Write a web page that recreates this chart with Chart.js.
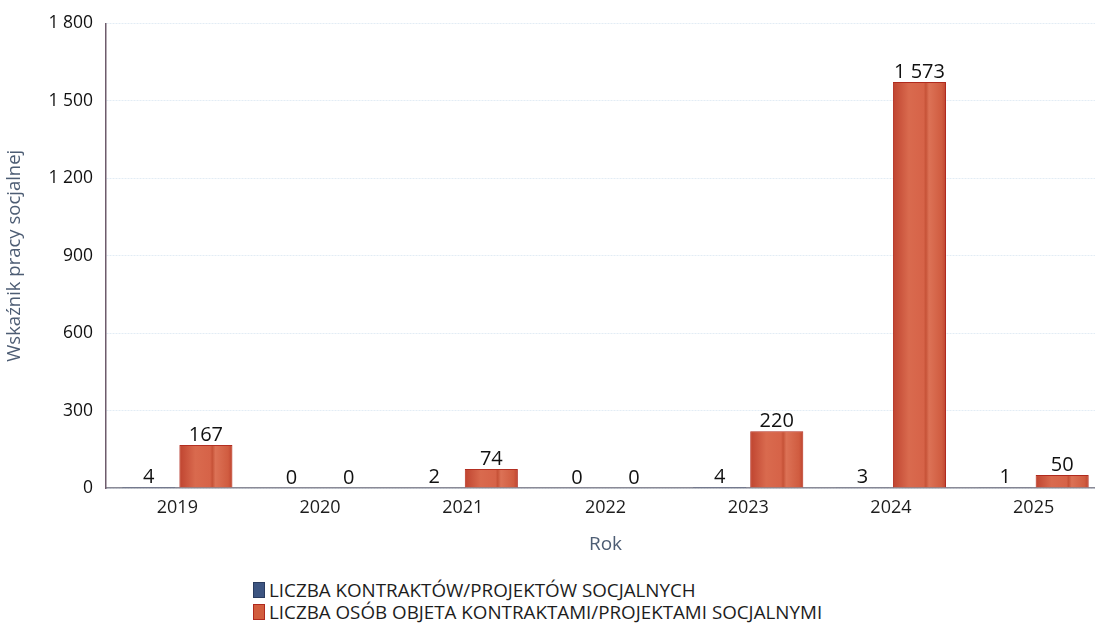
<!DOCTYPE html>
<html lang="pl">
<head>
<meta charset="utf-8">
<script src="https://cdn.jsdelivr.net/npm/chart.js@4/dist/chart.umd.min.js"></script>
<style>
    html, body { margin: 0; padding: 0; background: #fff; overflow: hidden; }
    #wrap { position: relative; width: 1105px; height: 560px; }
    #legend { position: absolute; left: 253px; top: 579px; font-family: "Open Sans", sans-serif; font-size: 18.8px; color: #1d1d1d; line-height: 22px; }
    #legend .item { display: flex; align-items: center; }
    #legend .box { width: 12px; height: 16px; margin-right: 4px; box-sizing: border-box; }
</style>
</head>
<body>
<div id="wrap"><canvas id="chart" width="1105" height="560"></canvas></div>
<div id="legend"></div>
<script>
const years = ['2019', '2020', '2021', '2022', '2023', '2024', '2025'];
const contracts = [4, 0, 2, 0, 4, 3, 1];
const people = [167, 0, 74, 0, 220, 1573, 50];
const yTicks = [0, 300, 600, 900, 1200, 1500, 1800];
const seriesNames = [
    'LICZBA KONTRAKTÓW/PROJEKTÓW SOCJALNYCH',
    'LICZBA OSÓB OBJETA KONTRAKTAMI/PROJEKTAMI SOCJALNYMI'
];

// "1573" -> "1 573"
function fmt(v) {
    return String(v).replace(/\B(?=(\d{3})+(?!\d))/g, ' ');
}

// shaded fill over the red bars
const barShade = {
    id: 'barShade',
    afterDatasetsDraw(chart) {
        const ctx = chart.ctx;
        ctx.save();
        chart.getDatasetMeta(1).data.forEach(bar => {
            const w = bar.width, l = bar.x - w / 2;
            const h = bar.base - bar.y;
            if (h < 3) return;
            const g = ctx.createLinearGradient(l, 0, l + w, 0);
            g.addColorStop(0, '#bf4430');
            g.addColorStop(0.3, '#d96a4e');
            g.addColorStop(0.58, '#d66348');
            g.addColorStop(0.62, '#c65237');
            g.addColorStop(0.68, '#dc7256');
            g.addColorStop(0.92, '#d05c40');
            g.addColorStop(1, '#bd4330');
            ctx.fillStyle = g;
            ctx.fillRect(l + 1, bar.y + 1, w - 2, h - 1.5);
        });
        ctx.restore();
    }
};

// value labels above every bar
const valueLabels = {
    id: 'valueLabels',
    afterDatasetsDraw(chart) {
        const ctx = chart.ctx;
        ctx.save();
        ctx.font = '20px "Open Sans", sans-serif';
        ctx.fillStyle = '#111';
        ctx.textAlign = 'center';
        ctx.textBaseline = 'bottom';
        chart.data.datasets.forEach((ds, i) => {
            chart.getDatasetMeta(i).data.forEach((bar, j) => {
                ctx.fillText(fmt(ds.data[j]), bar.x, bar.y);
            });
        });
        ctx.restore();
    }
};

const chart = new Chart(document.getElementById('chart'), {
    type: 'bar',
    data: {
        labels: years,
        datasets: [
            {
                label: seriesNames[0],
                data: contracts,
                backgroundColor: '#3d5581',
                borderColor: '#2a3c60',
                borderWidth: 1
            },
            {
                label: seriesNames[1],
                data: people,
                backgroundColor: '#d25d3e',
                borderColor: '#b02a1e',
                borderWidth: 1
            }
        ]
    },
    options: {
        responsive: false,
        animation: false,
        categoryPercentage: 0.8,
        barPercentage: 0.93,
        layout: { padding: { top: 22, right: 0, left: 0, bottom: 0 } },
        plugins: {
            legend: { display: false },
            tooltip: { enabled: false }
        },
        scales: {
            x: {
                grid: { display: false, drawTicks: false },
                border: { color: '#8a8a96', width: 1.5 },
                ticks: {
                    color: '#1d1d1d',
                    font: { family: 'Open Sans', size: 18 },
                    padding: 9
                },
                title: {
                    display: true,
                    text: 'Rok',
                    color: '#4d5d74',
                    font: { family: 'Open Sans', size: 19 },
                    padding: { top: 10 }
                },
                afterFit(scale) { scale.height = 72; }
            },
            y: {
                min: 0,
                max: 1800,
                afterBuildTicks(scale) { scale.ticks = yTicks.map(v => ({ value: v })); },
                grid: {
                    color: '#e2ecf5',
                    drawTicks: false
                },
                border: { color: '#6e5c6c', width: 1.5, dash: [2, 1] },
                ticks: {
                    color: '#111',
                    font: { family: 'Open Sans', size: 17.5, weight: '500' },
                    padding: 13,
                    callback: v => fmt(v)
                },
                title: {
                    display: true,
                    text: 'Wskaźnik pracy socjalnej',
                    color: '#4d5d74',
                    font: { family: 'Open Sans', size: 18.5 },
                    padding: { bottom: 4 }
                },
                afterFit(scale) { scale.width = 106; }
            }
        }
    },
    plugins: [barShade, valueLabels]
});

// legend below the chart, one series per line
const legend = document.getElementById('legend');
chart.data.datasets.forEach(ds => {
    const row = document.createElement('div');
    row.className = 'item';
    row.innerHTML = `<span class="box" style="background:${ds.backgroundColor};border:1px solid ${ds.borderColor}"></span><span>${ds.label}</span>`;
    legend.appendChild(row);
});
</script>
</body>
</html>
